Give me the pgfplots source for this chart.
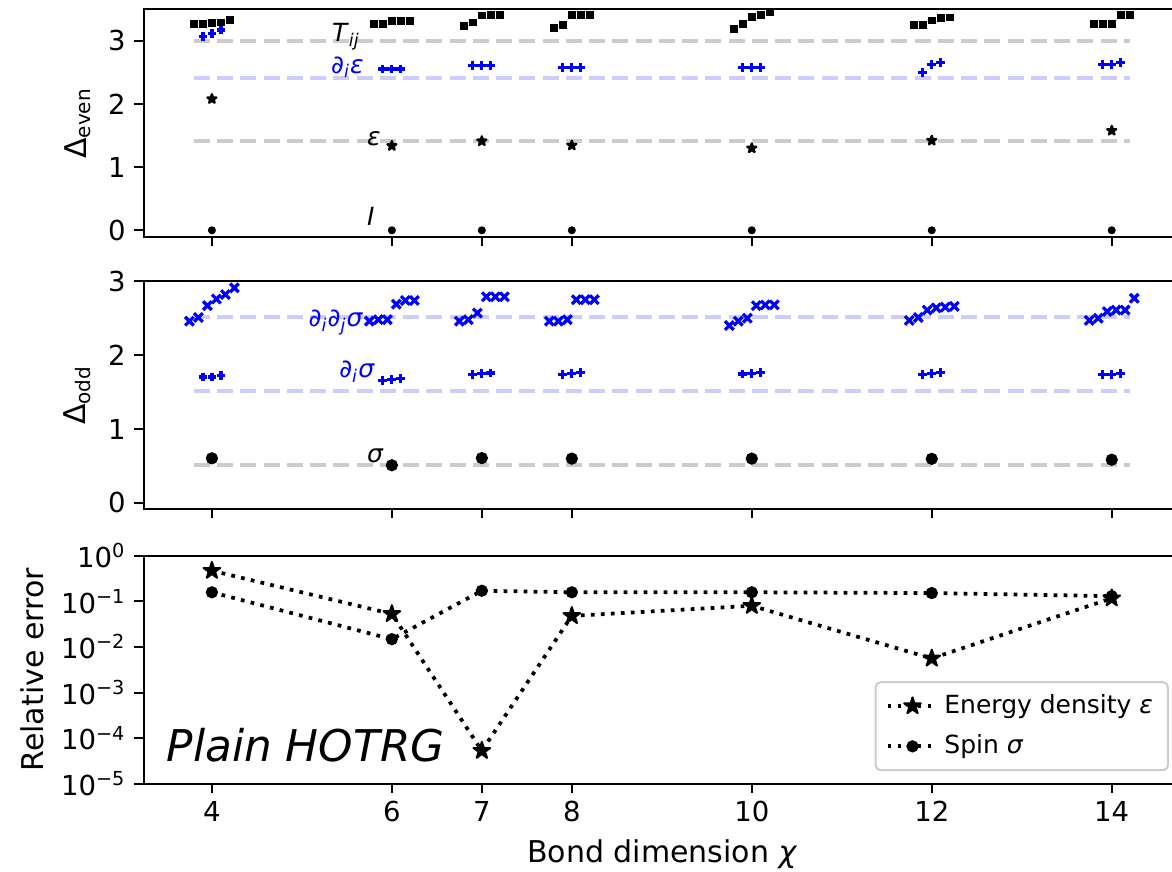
\documentclass[border=0pt]{standalone}
\usepackage{fontspec}
\setmainfont{DejaVu Sans}[ItalicFont={DejaVu Sans Oblique}]
\usepackage{pgfplots}
\pgfplotsset{compat=1.18}

\definecolor{refgray}{HTML}{CCCCCC}
\definecolor{refblue}{HTML}{CCCCFF}

% filled five-point star, like matplotlib's '*'
\pgfdeclareplotmark{fstar}{%
  \pgfpathmoveto{\pgfpointpolar{90}{\pgfplotmarksize}}%
  \pgfpathlineto{\pgfpointpolar{126}{0.382\pgfplotmarksize}}%
  \pgfpathlineto{\pgfpointpolar{162}{\pgfplotmarksize}}%
  \pgfpathlineto{\pgfpointpolar{198}{0.382\pgfplotmarksize}}%
  \pgfpathlineto{\pgfpointpolar{234}{\pgfplotmarksize}}%
  \pgfpathlineto{\pgfpointpolar{270}{0.382\pgfplotmarksize}}%
  \pgfpathlineto{\pgfpointpolar{306}{\pgfplotmarksize}}%
  \pgfpathlineto{\pgfpointpolar{342}{0.382\pgfplotmarksize}}%
  \pgfpathlineto{\pgfpointpolar{18}{\pgfplotmarksize}}%
  \pgfpathlineto{\pgfpointpolar{54}{0.382\pgfplotmarksize}}%
  \pgfpathclose
  \pgfusepathqfillstroke}

\pgfplotsset{
  panel/.style={
    scale only axis, width=415pt, height=91.2pt,
    xmin=3.24, xmax=14.77,
    xtick={4,6,7,8,10,12,14},
    tick align=outside, tick pos=left,
    major tick length=3.6pt,
    tick style={black, line width=0.8pt},
    axis line style={line width=0.8pt},
    ticklabel style={font=\fontsize{11}{13}\selectfont},
    label style={font=\fontsize{12}{14}\selectfont},
    /pgf/number format/assume math mode=true,
  },
  refline/.style={line width=1.6pt, dash pattern=on 6.4pt off 2.9pt, forget plot},
}
\tikzset{note/.style={anchor=base west, inner sep=0pt, font=\fontsize{10}{12}\selectfont}}

\begin{document}
\begin{tikzpicture}

% ---------------- even sector ----------------
\begin{axis}[panel, at={(57.4pt,253.5pt)},
  ymin=-0.11, ymax=3.5, ytick={0,1,2,3}, xticklabels={},
  ylabel={Δ\textsubscript{even}}]
  \addplot[refgray, refline] coordinates {(3.8,3) (14.2,3)};
  \addplot[refblue, refline] coordinates {(3.8,2.4126) (14.2,2.4126)};
  \addplot[refgray, refline] coordinates {(3.8,1.4126) (14.2,1.4126)};
  % T_ij
  \addplot[only marks, mark=square*, mark size=1.35pt, black] table {
  3.8 3.27
  3.9 3.27
  4.0 3.28
  4.1 3.29
  4.2 3.33
  5.8 3.27
  5.9 3.27
  6.0 3.31
  6.1 3.31
  6.2 3.31
  6.8 3.24
  6.9 3.29
  7.0 3.40
  7.1 3.41
  7.2 3.41
  7.8 3.20
  7.9 3.25
  8.0 3.41
  8.1 3.41
  8.2 3.41
  9.8 3.19
  9.9 3.27
  10.0 3.38
  10.1 3.41
  10.2 3.46
  11.8 3.25
  11.9 3.25
  12.0 3.32
  12.1 3.36
  12.2 3.37
  13.8 3.265
  13.9 3.27
  14.0 3.27
  14.1 3.41
  14.2 3.41
  };
  % d_i epsilon
  \addplot[only marks, mark=+, mark size=1.75pt, blue, mark options={line width=1.3pt}] table {
  3.9 3.07
  4.0 3.12
  4.1 3.17
  5.9 2.555
  6.0 2.555
  6.1 2.555
  6.9 2.61
  7.0 2.61
  7.1 2.61
  7.9 2.58
  8.0 2.58
  8.1 2.58
  9.9 2.58
  10.0 2.58
  10.1 2.58
  11.9 2.50
  12.0 2.63
  12.1 2.66
  13.9 2.62
  14.0 2.63
  14.1 2.66
  };
  % epsilon
  \addplot[only marks, mark=fstar, mark size=1.9pt, black, mark options={line width=0.9pt, line join=round}] table {
  4 2.08
  6 1.338
  7 1.4126
  8 1.345
  10 1.30
  12 1.4205
  14 1.578
  };
  % identity
  \addplot[only marks, mark=*, mark size=1.4pt, black] table {
  4 0
  6 0
  7 0
  8 0
  10 0
  12 0
  14 0
  };
  \node[note] at (axis cs:5.33,2.99) {\textit{T}\textsubscript{\textit{ij}}};
  \node[note, blue] at (axis cs:5.32,2.49) {\textit{∂}\textsubscript{\textit{i}}\textit{ε}};
  \node[note] at (axis cs:5.72,1.35) {\textit{ε}};
  \node[note] at (axis cs:5.72,0.08) {\textit{I}};
\end{axis}

% ---------------- odd sector ----------------
\begin{axis}[panel, at={(57.4pt,144.7pt)},
  ymin=-0.085, ymax=3.0, ytick={0,1,2,3}, xticklabels={},
  ylabel={Δ\textsubscript{odd}}]
  \addplot[refblue, refline] coordinates {(3.8,2.5181) (14.2,2.5181)};
  \addplot[refblue, refline] coordinates {(3.8,1.5181) (14.2,1.5181)};
  \addplot[refgray, refline] coordinates {(3.8,0.5181) (14.2,0.5181)};
  % d_i d_j sigma
  \addplot[only marks, mark=x, mark size=2.45pt, blue, mark options={line width=1.3pt}] table {
  3.75 2.46
  3.85 2.51
  3.95 2.67
  4.05 2.76
  4.15 2.82
  4.25 2.91
  5.75 2.46
  5.85 2.48
  5.95 2.48
  6.05 2.69
  6.15 2.74
  6.25 2.74
  6.75 2.46
  6.85 2.48
  6.95 2.57
  7.05 2.79
  7.15 2.79
  7.25 2.79
  7.75 2.46
  7.85 2.46
  7.95 2.48
  8.05 2.75
  8.15 2.75
  8.25 2.75
  9.75 2.40
  9.85 2.46
  9.95 2.50
  10.05 2.67
  10.15 2.68
  10.25 2.68
  11.75 2.47
  11.85 2.51
  11.95 2.61
  12.05 2.64
  12.15 2.65
  12.25 2.66
  13.75 2.47
  13.85 2.50
  13.95 2.59
  14.05 2.61
  14.15 2.61
  14.25 2.77
  };
  % d_i sigma
  \addplot[only marks, mark=+, mark size=1.75pt, blue, mark options={line width=1.3pt}] table {
  3.9 1.705
  4.0 1.705
  4.1 1.72
  5.9 1.66
  6.0 1.67
  6.1 1.68
  6.9 1.74
  7.0 1.75
  7.1 1.76
  7.9 1.74
  8.0 1.75
  8.1 1.765
  9.9 1.745
  10.0 1.75
  10.1 1.77
  11.9 1.74
  12.0 1.75
  12.1 1.77
  13.9 1.74
  14.0 1.74
  14.1 1.75
  };
  % sigma
  \addplot[only marks, mark=*, mark size=2.25pt, black] table {
  4 0.604
  6 0.510
  7 0.607
  8 0.600
  10 0.600
  12 0.597
  14 0.585
  };
  \node[note, blue] at (axis cs:5.07,2.39) {\textit{∂}\textsubscript{\textit{i}}\textit{∂}\textsubscript{\textit{j}}\textit{σ}};
  \node[note, blue] at (axis cs:5.41,1.70) {\textit{∂}\textsubscript{\textit{i}}\textit{σ}};
  \node[note] at (axis cs:5.72,0.55) {\textit{σ}};
\end{axis}

% ---------------- relative error ----------------
\begin{axis}[panel, at={(57.4pt,34.9pt)},
  ymode=log, ymin=1e-5, ymax=1, yminorticks=false,
  ytick={1e-5,1e-4,1e-3,1e-2,1e-1,1},
  yticklabels={10\textsuperscript{−5},10\textsuperscript{−4},10\textsuperscript{−3},
               10\textsuperscript{−2},10\textsuperscript{−1},10\textsuperscript{0}},
  xlabel={Bond dimension \textit{χ}}, ylabel={Relative error},
  legend cell align=left,
  legend image code/.code={\draw[mark repeat=2, mark phase=2]
    plot coordinates {(0pt,0pt) (10pt,0pt) (20pt,0pt)};},
  legend style={at={(rel axis cs:0.9884,0.055)}, anchor=south east,
    draw=black!20, line width=0.8pt, rounded corners=2pt,
    font=\fontsize{10}{12}\selectfont, inner xsep=4pt, inner ysep=3pt,
    row sep=3pt}]
  \addplot[black, line width=1.5pt, dash pattern=on 1.5pt off 2.5pt,
    mark=fstar, mark size=3.5pt, mark options={solid, line width=0.8pt, line join=round}] table {
  4 0.47
  6 0.053
  7 5.3e-5
  8 0.048
  10 0.080
  12 0.0056
  14 0.117
  };
  \addlegendentry{Energy density \textit{ε}}
  \addplot[black, line width=1.5pt, dash pattern=on 1.5pt off 2.5pt,
    mark=*, mark size=2.2pt, mark options={solid, line width=0.5pt}] table {
  4 0.158
  6 0.0148
  7 0.171
  8 0.158
  10 0.158
  12 0.152
  14 0.13
  };
  \addlegendentry{Spin \textit{σ}}
  \node[anchor=base west, inner sep=0pt, font=\fontsize{17.5}{20}\selectfont\itshape]
    at (rel axis cs:0.022,0.096) {Plain HOTRG};
\end{axis}

\pgfresetboundingbox
\path[use as bounding box] (0,0) rectangle (468.8pt,348.4pt);
\end{tikzpicture}
\end{document}
